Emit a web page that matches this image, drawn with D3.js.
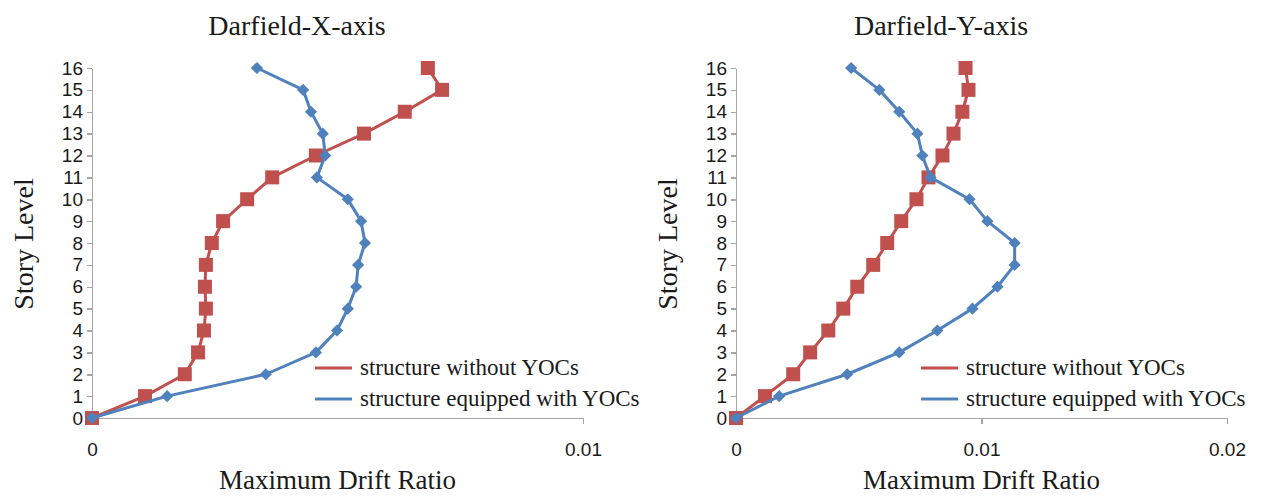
<!DOCTYPE html>
<html>
<head>
<meta charset="utf-8">
<script src="https://d3js.org/d3.v7.min.js"></script>
<style>
  body { margin: 0; background: #fff; }
  .axis path, .axis line { fill: none; stroke: #a6a6a6; stroke-width: 1.5; shape-rendering: crispEdges; }
  .axis text { font-family: "Liberation Sans", Arial, sans-serif; font-size: 19px; fill: #1a1a1a; }
  .ttl { font-family: "Liberation Serif", "Times New Roman", serif; fill: #1a1a1a; }
</style>
</head>
<body>
<svg id="chart" width="1264" height="497"></svg>
<script>
// story levels 0..16
var levels = [0,1,2,3,4,5,6,7,8,9,10,11,12,13,14,15,16];

// Darfield X-axis, maximum drift ratio
var xWithout  = [0,0.00108,0.00189,0.00216,0.00228,0.00232,0.0023,0.00232,0.00244,0.00267,0.00316,0.00367,0.00456,0.00554,0.00637,0.00713,0.00684];
var xEquipped = [0,0.00153,0.00354,0.00456,0.00499,0.00521,0.00538,0.00542,0.00556,0.00548,0.00521,0.00458,0.00475,0.0047,0.00446,0.0043,0.00336];

// Darfield Y-axis, maximum drift ratio
var yWithout  = [0,0.00118,0.00233,0.00302,0.00376,0.00437,0.00494,0.00559,0.00616,0.00673,0.00735,0.00784,0.00841,0.00886,0.00922,0.00947,0.00935];
var yEquipped = [0,0.00176,0.00453,0.00665,0.0082,0.00963,0.01065,0.01135,0.01135,0.01024,0.00951,0.00792,0.00759,0.00739,0.00665,0.00584,0.00469];

var seriesNames = ["structure without YOCs", "structure equipped with YOCs"];
var red = "#c0504d", blue = "#4f81bd";

var svg = d3.select("#chart");

var panels = [
  { title: "Darfield-X-axis", x0: 92,  x1: 583,  max: 0.01, ticks: [0, 0.01],       legendX: 315, without: xWithout, equipped: xEquipped },
  { title: "Darfield-Y-axis", x0: 736, x1: 1227, max: 0.02, ticks: [0, 0.01, 0.02], legendX: 921, without: yWithout, equipped: yEquipped }
];

var yTop = 68, yBot = 418;

panels.forEach(function(p) {
  var x = d3.scaleLinear().domain([0, p.max]).range([p.x0, p.x1]);
  var y = d3.scaleLinear().domain([0, 16]).range([yBot, yTop]);

  svg.append("g").attr("class", "axis")
    .attr("transform", "translate(0," + yBot + ")")
    .call(d3.axisBottom(x).tickValues(p.ticks).tickSize(6).tickSizeOuter(0).tickPadding(19)
      .tickFormat(function(d) { return d === 0 ? "0" : d3.format(".2f")(d); }));

  svg.append("g").attr("class", "axis")
    .attr("transform", "translate(" + p.x0 + ",0)")
    .call(d3.axisLeft(y).tickValues(levels).tickSize(5).tickSizeOuter(0).tickPadding(4));

  // titles
  svg.append("text").attr("class", "ttl")
    .attr("x", p.x0 + 205).attr("y", 35)
    .attr("text-anchor", "middle").style("font-size", "28px")
    .text(p.title);
  svg.append("text").attr("class", "ttl")
    .attr("x", (p.x0 + p.x1) / 2).attr("y", 489)
    .attr("text-anchor", "middle").style("font-size", "27px")
    .text("Maximum Drift Ratio");
  svg.append("text").attr("class", "ttl")
    .attr("transform", "translate(" + (p.x0 - 59) + ",244) rotate(-90)")
    .attr("text-anchor", "middle").style("font-size", "28px")
    .text("Story Level");

  var line = d3.line()
    .x(function(d) { return x(d); })
    .y(function(d, i) { return y(levels[i]); });

  // structure without YOCs (red squares)
  svg.append("path").datum(p.without)
    .attr("d", line).attr("fill", "none")
    .attr("stroke", red).attr("stroke-width", 3).attr("stroke-linejoin", "round");
  svg.append("g").selectAll("rect").data(p.without).enter().append("rect")
    .attr("x", function(d) { return x(d) - 7; })
    .attr("y", function(d, i) { return y(levels[i]) - 7; })
    .attr("width", 14).attr("height", 14)
    .attr("fill", red);

  // structure equipped with YOCs (blue diamonds)
  svg.append("path").datum(p.equipped)
    .attr("d", line).attr("fill", "none")
    .attr("stroke", blue).attr("stroke-width", 3).attr("stroke-linejoin", "round");
  svg.append("g").selectAll("path").data(p.equipped).enter().append("path")
    .attr("d", d3.symbol().type(d3.symbolDiamond2).size(95))
    .attr("transform", function(d, i) { return "translate(" + x(d) + "," + y(levels[i]) + ")"; })
    .attr("fill", blue);

  // legend
  var lx = p.legendX;
  [red, blue].forEach(function(c, i) {
    var ly = 368 + i * 31;
    svg.append("line")
      .attr("x1", lx).attr("x2", lx + 37).attr("y1", ly).attr("y2", ly)
      .attr("stroke", c).attr("stroke-width", 3);
    svg.append("text").attr("class", "ttl")
      .attr("x", lx + 45).attr("y", ly + 7)
      .style("font-size", "23px")
      .text(seriesNames[i]);
  });
});
</script>
</body>
</html>
